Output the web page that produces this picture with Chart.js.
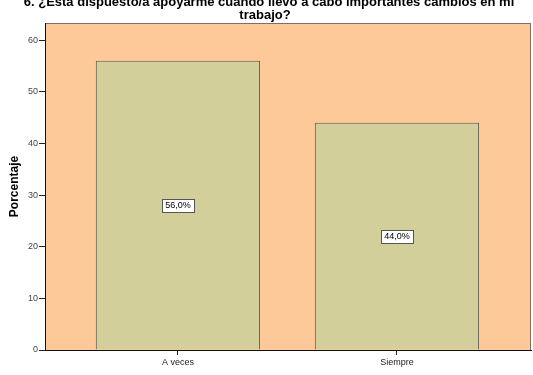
<!DOCTYPE html>
<html>
<head>
<meta charset="utf-8">
<script src="https://cdn.jsdelivr.net/npm/chart.js@4"></script>
<style>
  html, body { margin: 0; padding: 0; background: #ffffff; }
  #wrap { width: 533px; height: 375px; }
</style>
</head>
<body>
<div id="wrap"><canvas id="chart" width="533" height="375"></canvas></div>
<script>
// data
const categories = ['A veces', 'Siempre'];
const percentages = [56.0, 44.0];
const yTicks = [0, 10, 20, 30, 40, 50, 60];
const titleLines = ['6. ¿Está dispuesto/a apoyarme cuando llevo a cabo importantes cambios en mi', 'trabajo?'];

const FONT = '"Liberation Sans", Arial, sans-serif';

// plot background + frame
const plotBg = {
  id: 'plotBg',
  beforeDraw(chart) {
    const { ctx, chartArea: a } = chart;
    ctx.save();
    ctx.fillStyle = '#fdc999';
    ctx.fillRect(a.left, a.top, a.right - a.left, a.bottom - a.top);
    ctx.strokeStyle = '#7a7068';
    ctx.lineWidth = 1;
    ctx.strokeRect(a.left + 0.5, a.top + 0.5, a.right - a.left - 1, a.bottom - a.top);
    ctx.restore();
  }
};

// title drawn at the top, first line is partly cut off like in the picture
const topTitle = {
  id: 'topTitle',
  afterDraw(chart) {
    const { ctx } = chart;
    ctx.save();
    ctx.fillStyle = '#000';
    ctx.font = 'bold 13px ' + FONT;
    ctx.textAlign = 'center';
    ctx.textBaseline = 'alphabetic';
    ctx.fillText(titleLines[0], 269, 6);
    ctx.fillText(titleLines[1], 265, 19);
    ctx.restore();
  }
};

// boxed value labels in the middle of each bar
const boxLabels = {
  id: 'boxLabels',
  afterDatasetsDraw(chart) {
    const { ctx } = chart;
    const meta = chart.getDatasetMeta(0);
    ctx.save();
    ctx.font = '9px ' + FONT;
    ctx.textAlign = 'center';
    ctx.textBaseline = 'middle';
    meta.data.forEach((bar, i) => {
      const txt = percentages[i].toFixed(1).replace('.', ',') + '%';
      const cx = bar.x;
      const cy = (bar.y + bar.base) / 2;
      const w = Math.round(ctx.measureText(txt).width + 6);
      const h = 13;
      const x0 = Math.round(cx - w / 2) + 0.5;
      const y0 = Math.round(cy - h / 2) + 0.5;
      ctx.fillStyle = '#ffffff';
      ctx.fillRect(x0, y0, w, h);
      ctx.strokeStyle = '#555';
      ctx.lineWidth = 1;
      ctx.strokeRect(x0, y0, w, h);
      ctx.fillStyle = '#000';
      ctx.fillText(txt, cx, cy + 0.5);
    });
    ctx.restore();
  }
};

const ctx = document.getElementById('chart').getContext('2d');
new Chart(ctx, {
  type: 'bar',
  data: {
    datasets: [{
      data: percentages.map((v, i) => ({ x: i, y: v })),
      backgroundColor: '#d3cf9a',
      borderColor: '#5b5750',
      borderWidth: 1,
      borderSkipped: 'bottom',
      categoryPercentage: 1,
      barPercentage: 0.75
    }]
  },
  plugins: [plotBg, topTitle, boxLabels],
  options: {
    responsive: false,
    animation: false,
    layout: { padding: { top: 23, right: 2, left: 5, bottom: 0 } },
    plugins: { legend: { display: false }, tooltip: { enabled: false } },
    scales: {
      x: {
        type: 'linear',
        offset: false,
        min: -0.607,
        max: 1.612,
        afterBuildTicks(scale) { scale.ticks = categories.map((c, i) => ({ value: i })); },
        afterFit(scale) { scale.height = 25; },
        ticks: {
          callback: (v) => categories[v],
          font: { family: FONT, size: 9 },
          color: '#222',
          padding: 2,
          maxRotation: 0
        },
        grid: { offset: false, drawOnChartArea: false, tickLength: 5, color: '#222', tickColor: '#222' },
        border: { color: '#111', width: 1 }
      },
      y: {
        min: 0,
        max: 63.3,
        afterBuildTicks(scale) { scale.ticks = yTicks.map(v => ({ value: v })); },
        afterFit(scale) { scale.width = 40; },
        ticks: {
          font: { family: FONT, size: 9 },
          color: '#444',
          padding: 1
        },
        title: {
          display: true,
          text: 'Porcentaje',
          font: { family: FONT, size: 12, weight: 'bold' },
          color: '#000',
          padding: { top: 2, bottom: 4 }
        },
        grid: { drawOnChartArea: false, tickLength: 6, color: '#222', tickColor: '#222' },
        border: { color: '#111', width: 1 }
      }
    }
  }
});
</script>
</body>
</html>
